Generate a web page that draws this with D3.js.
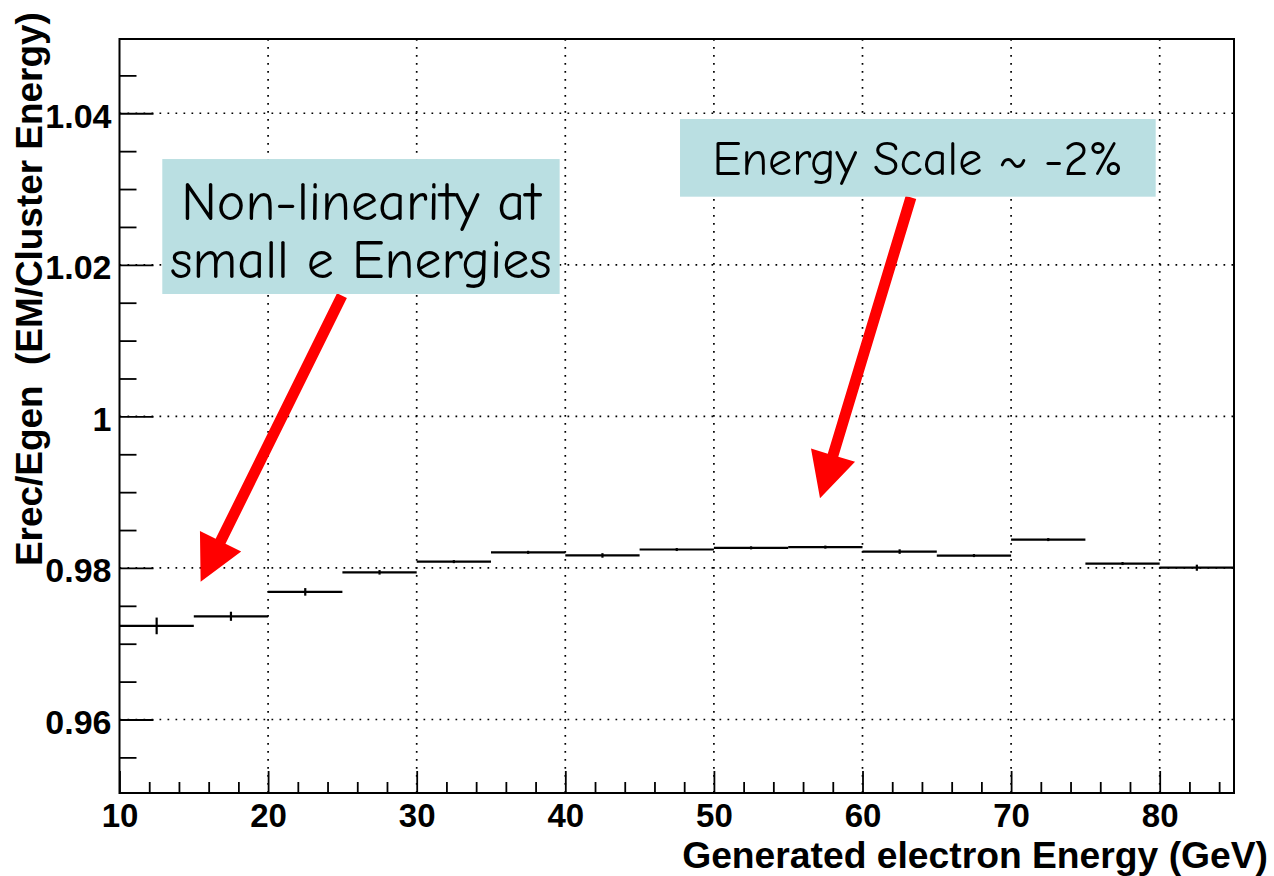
<!DOCTYPE html>
<html>
<head>
<meta charset="utf-8">
<script src="https://cdn.jsdelivr.net/npm/d3@7"></script>
<style>
  html, body { margin: 0; padding: 0; background: #ffffff; }
  svg { display: block; }
</style>
</head>
<body>
<svg id="chart" width="1274" height="876"></svg>
<script>
// Energy response per 5 GeV bin of generated electron energy
const binLow   = [10, 15, 20, 25, 30, 35, 40, 45, 50, 55, 60, 65, 70, 75, 80];
const binWidth = 5;
const ratio    = [0.97235, 0.97362, 0.97684, 0.97942, 0.98083, 0.98206, 0.98165,
                  0.98243, 0.98265, 0.98275, 0.98216, 0.98163, 0.98374, 0.98058, 0.98003];
const ratioErr = [0.0011, 0.0006, 0.0005, 0.0003, 0.0002, 0.0002, 0.0003,
                  0.0002, 0.0002, 0.0002, 0.0003, 0.0002, 0.0002, 0.0002, 0.0004];

// Axis ticks and labels
const xTicks      = [10, 20, 30, 40, 50, 60, 70, 80];
const xTickLabels = ["10", "20", "30", "40", "50", "60", "70", "80"];
const yTicks      = [0.96, 0.98, 1.00, 1.02, 1.04];
const yTickLabels = ["0.96", "0.98", "1", "1.02", "1.04"];
const xTitle = "Generated electron Energy (GeV)";
const yTitle = "Erec/Egen  (EM/Cluster Energy)";

// Callout notes (box corners and arrow ends in data units)
const notes = [
  { lines: ["Non-linearity at", "small e Energies"],
    box: [12.88, 1.03396, 39.62, 1.01615],
    arrowFrom: [24.97, 1.01593], arrowTo: [15.46, 0.97819] },
  { lines: ["Energy Scale ~ -2%"],
    box: [47.72, 1.03924, 79.73, 1.02899],
    arrowFrom: [63.26, 1.02891], arrowTo: [57.14, 0.98919] }
];

const svg = d3.select("#chart");
const W = 1274, H = 876;
const frame = { left: 119.5, right: 1234, top: 39, bottom: 793 };
const axisFont = "'Liberation Sans', Arial, Helvetica, sans-serif";
const noteFont = "'Comic Sans MS', 'Comic Neue', Lato, 'Open Sans', sans-serif";

svg.append("rect").attr("width", W).attr("height", H).attr("fill", "#ffffff");

const x = d3.scaleLinear().domain([10, 85]).range([frame.left, frame.right]);
const y = d3.scaleLinear().domain([0.9503, 1.0498]).range([frame.bottom, frame.top]);

// Dotted grid at the major ticks
const grid = svg.append("g")
  .attr("stroke", "#000").attr("stroke-width", 1.7)
  .attr("stroke-dasharray", "1.7,6.3").attr("fill", "none");
grid.selectAll("line.gx").data(xTicks.slice(1)).join("line")
  .attr("class", "gx")
  .attr("x1", d => x(d)).attr("x2", d => x(d))
  .attr("y1", frame.top).attr("y2", frame.bottom);
grid.selectAll("line.gy").data(yTicks).join("line")
  .attr("class", "gy")
  .attr("x1", frame.left).attr("x2", frame.right)
  .attr("y1", d => y(d)).attr("y2", d => y(d));

// Minor ticks
const xMinor = d3.range(12, 85, 2).filter(v => v % 10 !== 0);
const yMinor = d3.range(0, 19).map(i => +(0.955 + i * 0.005).toFixed(3))
  .filter(v => !yTicks.some(t => Math.abs(t - v) < 1e-6));

svg.append("g")
  .attr("transform", `translate(0,${frame.bottom})`)
  .call(d3.axisBottom(x).tickValues(xMinor).tickSize(-11).tickFormat(""))
  .call(g => g.select(".domain").remove())
  .call(g => g.selectAll("line").attr("stroke-width", 1.8));

svg.append("g")
  .attr("transform", `translate(${frame.left},0)`)
  .call(d3.axisLeft(y).tickValues(yMinor).tickSize(-17).tickFormat(""))
  .call(g => g.select(".domain").remove())
  .call(g => g.selectAll("line").attr("stroke-width", 1.8));

// Major ticks with labels
svg.append("g")
  .attr("transform", `translate(0,${frame.bottom})`)
  .call(d3.axisBottom(x).tickValues(xTicks).tickSize(-22).tickPadding(11)
        .tickFormat((d, i) => xTickLabels[i]))
  .call(g => g.select(".domain").remove())
  .call(g => g.selectAll("line").attr("stroke-width", 1.8))
  .call(g => g.selectAll("text")
        .attr("font-family", axisFont).attr("font-weight", "bold")
        .attr("font-size", 33).attr("fill", "#000"));

svg.append("g")
  .attr("transform", `translate(${frame.left},0)`)
  .call(d3.axisLeft(y).tickValues(yTicks).tickSize(-34).tickPadding(8)
        .tickFormat((d, i) => yTickLabels[i]))
  .call(g => g.select(".domain").remove())
  .call(g => g.selectAll("line").attr("stroke-width", 1.8))
  .call(g => g.selectAll("text")
        .attr("dy", "0.41em")
        .attr("font-family", axisFont).attr("font-weight", "bold")
        .attr("font-size", 34).attr("fill", "#000"));

// Histogram bins: horizontal bin width plus vertical error bar
const bins = binLow.map((lo, i) => ({ lo, hi: lo + binWidth, v: ratio[i], e: ratioErr[i] }));
const hist = svg.append("g").attr("stroke", "#000").attr("stroke-width", 2.2);
hist.selectAll("line.bin").data(bins).join("line")
  .attr("class", "bin")
  .attr("x1", d => x(d.lo)).attr("x2", d => x(d.hi))
  .attr("y1", d => y(d.v)).attr("y2", d => y(d.v));
hist.selectAll("line.err").data(bins).join("line")
  .attr("class", "err")
  .attr("x1", d => x(d.lo + binWidth / 2)).attr("x2", d => x(d.lo + binWidth / 2))
  .attr("y1", d => y(d.v - d.e)).attr("y2", d => y(d.v + d.e));

// Plot frame
svg.append("rect")
  .attr("x", frame.left).attr("y", frame.top)
  .attr("width", frame.right - frame.left).attr("height", frame.bottom - frame.top)
  .attr("fill", "none").attr("stroke", "#000").attr("stroke-width", 2);

// Axis titles, scaled to their measured lengths
function fitText(sel, size, target) {
  sel.attr("font-size", size);
  const len = sel.node().getComputedTextLength();
  if (len > 0) sel.attr("font-size", size * target / len);
  return sel;
}

const xt = svg.append("text")
  .attr("x", 1268).attr("y", 868)
  .attr("text-anchor", "end")
  .attr("font-family", axisFont).attr("font-weight", "bold").attr("fill", "#000")
  .text(xTitle);
fitText(xt, 36, 586);

const yt = svg.append("text")
  .attr("transform", "translate(42,566) rotate(-90)")
  .attr("text-anchor", "start")
  .style("white-space", "pre")
  .attr("xml:space", "preserve")
  .attr("font-family", axisFont).attr("font-weight", "bold").attr("fill", "#000")
  .text(yTitle);
fitText(yt, 36, 554);

// Callouts: red arrows and shaded text boxes
function drawArrow(g, from, to) {
  const x0 = x(from[0]), y0 = y(from[1]), x1 = x(to[0]), y1 = y(to[1]);
  const dx = x1 - x0, dy = y1 - y0, L = Math.hypot(dx, dy);
  const ux = dx / L, uy = dy / L, px = -uy, py = ux;
  const headLen = 45, headHalf = 23, shaft = 5.5;
  const bx = x1 - ux * headLen, by = y1 - uy * headLen;
  g.append("path")
    .attr("d", d3.line()([
      [x0 + px * shaft, y0 + py * shaft],
      [bx + px * shaft, by + py * shaft],
      [bx + px * headHalf, by + py * headHalf],
      [x1, y1],
      [bx - px * headHalf, by - py * headHalf],
      [bx - px * shaft, by - py * shaft],
      [x0 - px * shaft, y0 - py * shaft]
    ]) + "Z")
    .attr("fill", "#ff0000");
}

const noteLayer = svg.append("g");
notes.forEach(n => {
  drawArrow(noteLayer, n.arrowFrom, n.arrowTo);
});

notes.forEach(n => {
  const bx0 = x(n.box[0]), by0 = y(n.box[1]), bx1 = x(n.box[2]), by1 = y(n.box[3]);
  noteLayer.append("rect")
    .attr("x", bx0).attr("y", by0)
    .attr("width", bx1 - bx0).attr("height", by1 - by0)
    .attr("fill", "#badfe2");
  const bw = bx1 - bx0, bh = by1 - by0;
  const nL = n.lines.length;
  // size text so that the widest line spans about 90% of the box
  const probe = noteLayer.append("text")
    .attr("font-family", noteFont).attr("font-size", 40).text(
      n.lines.reduce((a, b) => (a.length >= b.length ? a : b)));
  const plen = probe.node().getComputedTextLength();
  probe.remove();
  let fs = 40 * (bw * 0.905) / plen;
  fs = Math.min(fs, nL === 1 ? bh * 0.62 : bh * 0.42);
  const lineGap = bh / nL;
  n.lines.forEach((t, i) => {
    noteLayer.append("text")
      .attr("x", (bx0 + bx1) / 2)
      .attr("y", by0 + lineGap * (i + 0.5) + fs * 0.36 + (nL === 1 ? 0 : (i === 0 ? 8 : -2)))
      .attr("text-anchor", "middle")
      .attr("font-family", noteFont).attr("font-size", fs).attr("fill", "#000")
      .text(t);
  });
});
</script>
</body>
</html>
